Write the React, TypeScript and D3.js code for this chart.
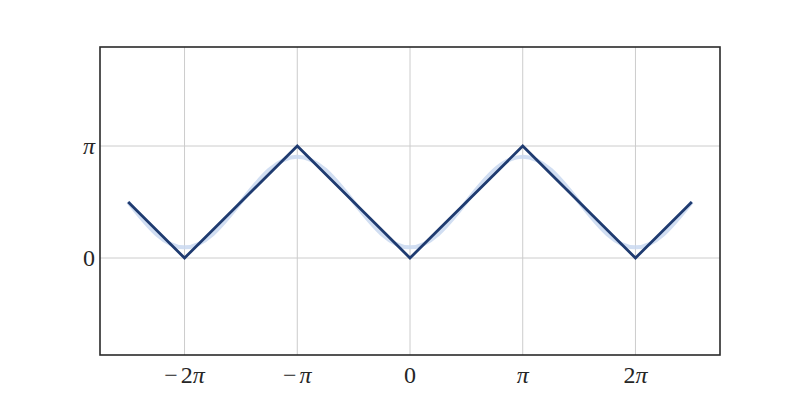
import React from 'react';
import * as d3 from 'd3';

// x and y values are in units of pi
const sharpX = [-2.5, -2, -1, 0, 1, 2, 2.5];
const sharpY = [0.5, 0, 1, 0, 1, 0, 0.5];

const smoothX = [-2.5, -2.25, -2, -1.75, -1.5, -1.25, -1, -0.75, -0.5, -0.25, 0,
    0.25, 0.5, 0.75, 1, 1.25, 1.5, 1.75, 2, 2.25, 2.5];
const smoothY = [0.5, 0.213, 0.095, 0.213, 0.5, 0.787, 0.905, 0.787, 0.5, 0.213, 0.095,
    0.213, 0.5, 0.787, 0.905, 0.787, 0.5, 0.213, 0.095, 0.213, 0.5];

const xTicks = [-2, -1, 0, 1, 2];
// [sign, number, has pi]
const xTickLabels: Array<[string, string, boolean]> = [
    ['\u2212', '2', true], ['\u2212', '', true], ['', '0', false], ['', '', true], ['', '2', true]];
const yTicks = [0, 1];
const yTickLabels: Array<[string, string, boolean]> = [['', '0', false], ['', '', true]];

function Label({parts}: {parts: [string, string, boolean]}) {
    return (
        <>
            {parts[0] !== '' && <tspan dx={0}>{parts[0]}</tspan>}
            {parts[1] !== '' && <tspan dx={parts[0] !== '' ? 3 : 0}>{parts[1]}</tspan>}
            {parts[2] && <tspan dx={parts[0] !== '' && parts[1] === '' ? 3 : 0} fontStyle="italic">{'\u03c0'}</tspan>}
        </>
    );
}

function App() {
    const width = 800;
    const height = 400;
    const margin = {top: 47, right: 80, bottom: 45, left: 100};
    const x = d3.scaleLinear().domain([-2.75, 2.75]).range([margin.left, width - margin.right]);
    const y = d3.scaleLinear().domain([-0.866, 1.884]).range([height - margin.bottom, margin.top]);

    const sharpLine = d3.line<number>()
        .x((d, i) => x(sharpX[i]))
        .y(d => y(d));
    const smoothLine = d3.line<number>()
        .x((d, i) => x(smoothX[i]))
        .y(d => y(d))
        .curve(d3.curveNatural);

    const font = '"Liberation Serif", "DejaVu Serif", serif';

    return (
        <svg width={width} height={height} style={{position: 'absolute', left: 0, top: 0}}>
            <rect width={width} height={height} fill="#fff"/>
            {xTicks.map(t => (
                <line key={'gx' + t} x1={x(t)} x2={x(t)} y1={margin.top} y2={height - margin.bottom}
                      stroke="#cccccc" strokeWidth={1}/>
            ))}
            {yTicks.map(t => (
                <line key={'gy' + t} x1={margin.left} x2={width - margin.right} y1={y(t)} y2={y(t)}
                      stroke="#cccccc" strokeWidth={1}/>
            ))}
            <path d={smoothLine(smoothY) || ''} fill="none" stroke="#c9d8f0" strokeWidth={4}
                  strokeOpacity={0.85}/>
            <path d={sharpLine(sharpY) || ''} fill="none" stroke="#1f3b70" strokeWidth={2.8}
                  strokeLinejoin="miter"/>
            <rect x={margin.left} y={margin.top} width={width - margin.left - margin.right}
                  height={height - margin.top - margin.bottom} fill="none" stroke="#2a2a2a" strokeWidth={1.6}/>
            {xTicks.map((t, i) => (
                <text key={'tx' + t} x={x(t)} y={height - margin.bottom + 28} textAnchor="middle"
                      fontFamily={font} fontSize={24} fill="#262626">
                    <Label parts={xTickLabels[i]}/>
                </text>
            ))}
            {yTicks.map((t, i) => (
                <text key={'ty' + t} x={margin.left - 5} y={y(t)} dy="0.33em" textAnchor="end"
                      fontFamily={font} fontSize={24} fill="#262626">
                    <Label parts={yTickLabels[i]}/>
                </text>
            ))}
        </svg>
    );
}

export default App;
